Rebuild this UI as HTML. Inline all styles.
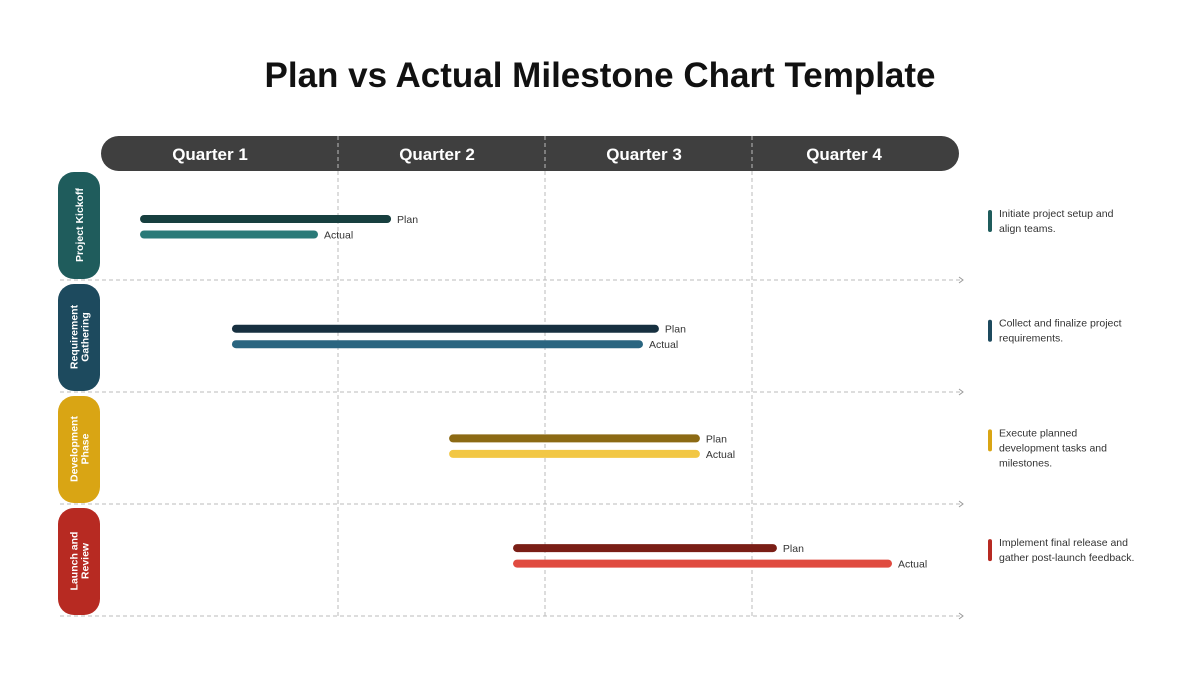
<!DOCTYPE html>
<html><head><meta charset="utf-8"><style>
body{margin:0;background:#fff;width:1200px;height:675px;overflow:hidden;font-family:"Liberation Sans",sans-serif}
</style></head><body>
<svg width="1200" height="675" xmlns="http://www.w3.org/2000/svg">
<text x="600" y="87" text-anchor="middle" font-size="35" font-weight="bold" fill="#111">Plan vs Actual Milestone Chart Template</text>
<rect x="101" y="136" width="858" height="35" rx="17.5" fill="#3f3f3f"/>
<g id="grid"></g>
<g id="marks"></g>
</svg>
<script>
const quarters=["Quarter 1","Quarter 2","Quarter 3","Quarter 4"];
const phases=["Project Kickoff","Requirement|Gathering","Development|Phase","Launch and|Review"];
const planStart=[0.063,0.507,1.556,1.865];
const planEnd=[1.237,2.531,2.729,3.101];
const actualStart=[0.063,0.507,1.556,1.865];
const actualEnd=[0.884,2.454,2.729,3.657];
const notes=["Initiate project setup and|align teams.","Collect and finalize project|requirements.","Execute planned|development tasks and|milestones.","Implement final release and|gather post-launch feedback."];
const pillColors=["#1f5c5c","#1d4a5e","#d9a514","#b72a22"];
const planColors=["#173f3f","#173040","#8c6a14","#7a1e16"];
const actualColors=["#2a7a78","#2a6580","#f2c744","#e04b40"];
const NS="http://www.w3.org/2000/svg";
const x=v=>131+v*207;
const rowTop=i=>172+i*112;
const grid=document.getElementById('grid'),marks=document.getElementById('marks');
function mk(p,tag,attrs,txt){const e=document.createElementNS(NS,tag);for(const k in attrs)e.setAttribute(k,attrs[k]);if(txt!=null)e.textContent=txt;p.appendChild(e);return e;}
const qlx=[210,437,644,844];
quarters.forEach((q,i)=>{
 const t=mk(grid,'text',{x:qlx[i],y:160,'text-anchor':'middle','font-size':17,'font-weight':'bold',fill:'#fff'},q);
 
 
 if(i>0){const l=mk(grid,'line',{x1:x(i),x2:x(i),y1:136,y2:616,stroke:'#bbb','stroke-dasharray':'4 3'});
 
 }
});
phases.forEach((p,i)=>{
 const top=rowTop(i);
 const sep=mk(grid,'line',{x1:60,x2:961,y1:top+108,y2:top+108,stroke:'#bbb','stroke-dasharray':'4 3'});
 
 
 const ar=mk(grid,'path',{d:`M${959} ${top+105} l4 3 l-4 3`,stroke:'#999',fill:'none'});
 
 
 const pill=mk(marks,'rect',{x:58,y:top,width:42,height:107,rx:16,fill:pillColors[i]});
 
 
 const lines=p.split('|');const cy=top+53;
 const tx=mk(marks,'text',{transform:`translate(79 ${cy}) rotate(-90)`,'text-anchor':'middle','font-size':10.5,'font-weight':'bold',fill:'#fff'});
 
 
 lines.forEach((s,j)=>mk(tx,'tspan',{x:0,y:(j-(lines.length-1)/2)*11+4},s));
 const py=219+i*109.7,ay=py+15.5;
 const pb=mk(marks,'line',{x1:x(planStart[i]),x2:x(planEnd[i]),y1:py,y2:py,stroke:planColors[i],'stroke-width':8,'stroke-linecap':'round'});
 
 
 const pl=mk(marks,'text',{x:x(planEnd[i])+10,y:py+4,'font-size':10.5,fill:'#333'},'Plan');
 
 
 const ab=mk(marks,'line',{x1:x(actualStart[i]),x2:x(actualEnd[i]),y1:ay,y2:ay,stroke:actualColors[i],'stroke-width':8,'stroke-linecap':'round'});
 
 
 const al=mk(marks,'text',{x:x(actualEnd[i])+10,y:ay+4,'font-size':10.5,fill:'#333'},'Actual');
 
 
 const nl=notes[i].split('|');
 const ny=py+1;
 const nb=mk(marks,'rect',{x:988,y:ny-10,width:4,height:22,rx:2,fill:pillColors[i]});
 
 
 const nt=mk(marks,'text',{'font-size':10.5,fill:'#333'});
 
 
 nl.forEach((s,j)=>mk(nt,'tspan',{x:999,y:ny-3+j*15},s));
});
</script>
</body></html>
